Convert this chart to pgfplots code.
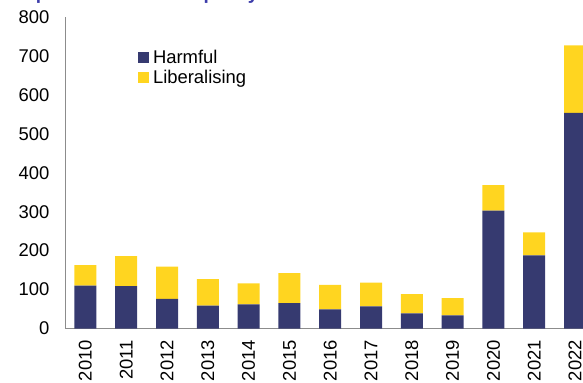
\documentclass[border=0pt]{standalone}
\usepackage{pgfplots}
\pgfplotsset{compat=1.18}
\usepackage{fontspec}
\setmainfont{Liberation Sans}
\definecolor{harm}{RGB}{54,58,112}
\definecolor{libc}{RGB}{255,213,32}
\definecolor{ttl}{RGB}{60,60,170}
\definecolor{axgray}{RGB}{140,140,140}
\begin{document}
\begin{tikzpicture}
\begin{axis}[
  at={(65bp,54.5bp)}, anchor=south west,
  scale only axis, width=518bp, height=311.5bp,
  ybar stacked, bar width=22bp,
  xmin=-0.5, xmax=12.196, ymin=0, ymax=800,
  xtick={0,...,12},
  xticklabels={2010,2011,2012,2013,2014,2015,2016,2017,2018,2019,2020,2021,2022},
  ytick={0,100,...,800},
  axis x line=bottom, axis y line=left,
  axis line style={-, draw=axgray, line width=1bp},
  major tick length=0pt,
  tick label style={font=\fontsize{18.5}{20}\selectfont},
  /pgf/number format/assume math mode=true,
  yticklabel style={xshift=-12bp},
  xticklabel style={rotate=90, anchor=east, xshift=-8bp},
  legend style={draw=none, fill=none, at={(axis description cs:0.1396,0.902)}, anchor=north west,
    font=\fontsize{18.5}{20}\selectfont, row sep=2bp, inner sep=0pt},
  legend cell align=left,
  legend image code/.code={\fill[#1, draw=none] (0bp,-5.5bp) rectangle (11bp,5.5bp); \path (13.5bp,0bp);},
]
\addplot[fill=harm, draw=none] coordinates {
(0,110) (1,109) (2,76) (3,59) (4,62) (5,65) (6,49) (7,57) (8,39) (9,34) (10,303) (11,188) (12,554)};
\addplot[fill=libc, draw=none] coordinates {
(0,53) (1,77) (2,83) (3,68) (4,54) (5,77) (6,63) (7,61) (8,49) (9,44) (10,65) (11,59) (12,173)};
\legend{Harmful, Liberalising}
\end{axis}
\node[anchor=base west, text=ttl, font=\bfseries\fontsize{19}{22}\selectfont, inner sep=0pt] at (3bp,383.5bp) {Graph 1: Global trade policy interventions};
\pgfresetboundingbox
\useasboundingbox (0,0) rectangle (583bp,383bp);
\end{tikzpicture}
\end{document}
